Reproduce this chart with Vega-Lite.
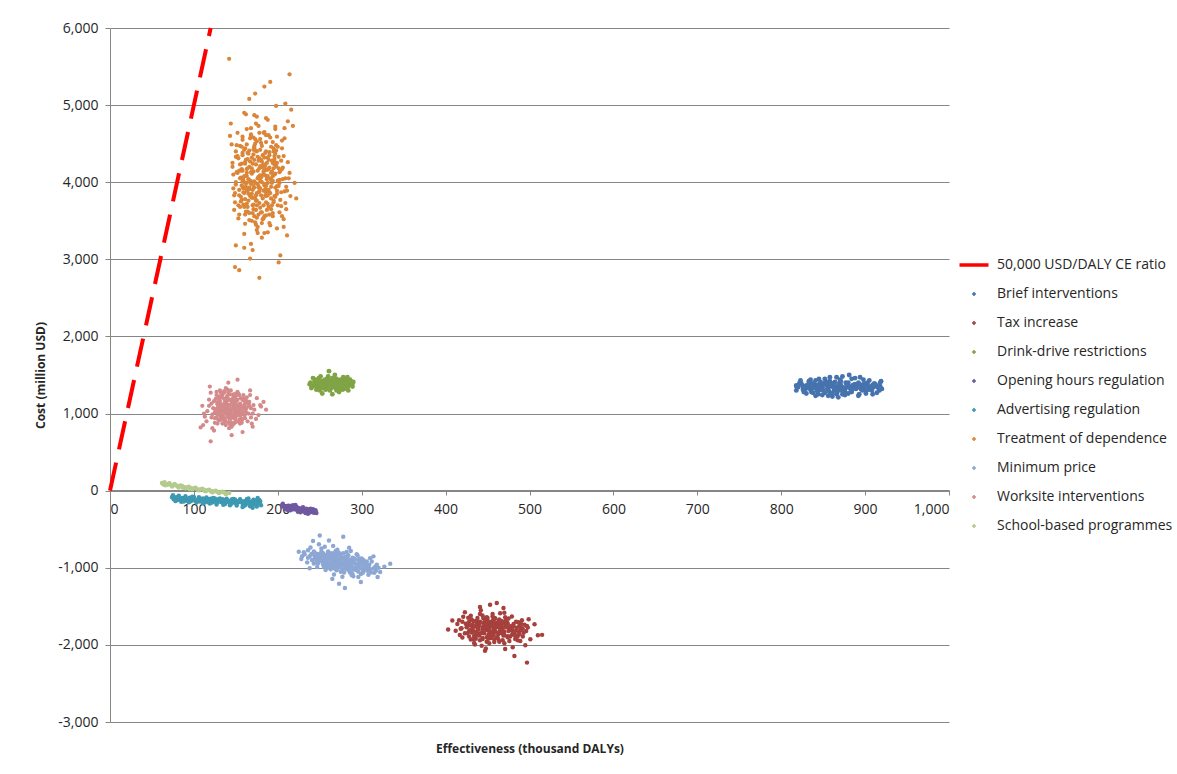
{
  "$schema": "https://vega.github.io/schema/vega-lite/v6.json",
  "width": 839,
  "height": 694,
  "autosize": "none",
  "padding": {"left": 110, "top": 28, "right": 228, "bottom": 52},
  "background": "white",
  "datasets": {
    "ceLine": [{"x": 0, "y": 0}, {"x": 120, "y": 6000}],
    "brief": [{"x":865,"y":1350},{"x":842,"y":1320},{"x":888,"y":1380},{"x":820,"y":1340},{"x":904,"y":1310},{"x":853,"y":1400},{"x":876,"y":1290},{"x":831,"y":1370},{"x":897,"y":1350},{"x":859,"y":1260},{"x":871,"y":1420},{"x":826,"y":1330},{"x":915,"y":1340},{"x":847,"y":1360},{"x":883,"y":1310},{"x":836,"y":1280},{"x":892,"y":1400},{"x":868,"y":1330},{"x":824,"y":1390},{"x":909,"y":1370},{"x":850,"y":1300},{"x":879,"y":1360},{"x":841,"y":1430},{"x":901,"y":1290},{"x":862,"y":1380},{"x":818,"y":1300},{"x":887,"y":1340},{"x":856,"y":1340},{"x":873,"y":1250},{"x":833,"y":1350},{"x":920,"y":1320},{"x":846,"y":1390},{"x":895,"y":1320},{"x":866,"y":1470},{"x":828,"y":1320},{"x":880,"y":1400},{"x":852,"y":1270},{"x":907,"y":1350},{"x":839,"y":1340},{"x":870,"y":1310},{"x":818,"y":1360},{"x":890,"y":1360},{"x":858,"y":1420},{"x":877,"y":1330},{"x":844,"y":1250},{"x":912,"y":1380},{"x":863,"y":1300},{"x":826,"y":1360},{"x":899,"y":1330},{"x":849,"y":1340},{"x":884,"y":1280},{"x":835,"y":1400},{"x":869,"y":1360},{"x":917,"y":1300},{"x":854,"y":1370},{"x":893,"y":1250},{"x":822,"y":1380},{"x":874,"y":1340},{"x":861,"y":1220},{"x":843,"y":1290},{"x":881,"y":1500},{"x":903,"y":1400},{"x":848,"y":1350},{"x":872,"y":1330},{"x":895,"y":1370},{"x":829,"y":1320},{"x":861,"y":1390},{"x":910,"y":1340},{"x":838,"y":1380},{"x":884,"y":1300},{"x":855,"y":1320},{"x":818,"y":1360},{"x":899,"y":1390},{"x":867,"y":1280},{"x":845,"y":1300},{"x":878,"y":1380},{"x":906,"y":1320},{"x":833,"y":1330},{"x":890,"y":1330},{"x":860,"y":1350},{"x":822,"y":1400},{"x":914,"y":1360},{"x":851,"y":1380},{"x":875,"y":1300},{"x":840,"y":1350},{"x":897,"y":1300},{"x":864,"y":1410},{"x":827,"y":1350},{"x":886,"y":1370},{"x":857,"y":1290},{"x":918,"y":1350},{"x":844,"y":1330},{"x":871,"y":1370},{"x":903,"y":1360},{"x":835,"y":1310},{"x":881,"y":1350},{"x":853,"y":1420},{"x":819,"y":1340},{"x":893,"y":1380},{"x":866,"y":1320},{"x":839,"y":1390},{"x":908,"y":1300},{"x":858,"y":1360},{"x":877,"y":1400},{"x":826,"y":1310},{"x":889,"y":1320},{"x":847,"y":1410},{"x":916,"y":1330},{"x":863,"y":1340},{"x":834,"y":1360},{"x":900,"y":1350},{"x":873,"y":1290},{"x":842,"y":1370},{"x":882,"y":1330},{"x":856,"y":1400},{"x":821,"y":1370},{"x":896,"y":1310},{"x":869,"y":1390},{"x":849,"y":1320},{"x":911,"y":1390},{"x":837,"y":1330},{"x":885,"y":1360},{"x":830,"y":1260},{"x":852,"y":1450},{"x":876,"y":1240},{"x":898,"y":1440},{"x":914,"y":1270},{"x":841,"y":1230},{"x":866,"y":1250},{"x":888,"y":1460},{"x":905,"y":1430},{"x":823,"y":1430},{"x":858,"y":1470},{"x":880,"y":1260},{"x":919,"y":1420},{"x":845,"y":1450},{"x":870,"y":1440},{"x":892,"y":1230},{"x":835,"y":1440},{"x":861,"y":1260},{"x":909,"y":1250},{"x":827,"y":1280},{"x":884,"y":1450},{"x":849,"y":1240},{"x":873,"y":1480},{"x":901,"y":1260},{"x":838,"y":1270},{"x":856,"y":1230},{"x":894,"y":1470},{"x":918,"y":1400},{"x":868,"y":1210},{"x":833,"y":1420}],
    "tax": [{"x":448,"y":-1726},{"x":462,"y":-1907},{"x":431,"y":-1672},{"x":475,"y":-1658},{"x":455,"y":-1842},{"x":419,"y":-1783},{"x":489,"y":-1949},{"x":441,"y":-1600},{"x":468,"y":-1772},{"x":452,"y":-1979},{"x":427,"y":-1649},{"x":497,"y":-1755},{"x":459,"y":-1655},{"x":436,"y":-1876},{"x":481,"y":-1852},{"x":446,"y":-1764},{"x":470,"y":-1584},{"x":412,"y":-1817},{"x":464,"y":-1959},{"x":450,"y":-1698},{"x":487,"y":-1707},{"x":433,"y":-1924},{"x":457,"y":-1803},{"x":474,"y":-1887},{"x":423,"y":-1576},{"x":493,"y":-1842},{"x":443,"y":-2012},{"x":466,"y":-1730},{"x":438,"y":-1728},{"x":479,"y":-1631},{"x":453,"y":-1480},{"x":417,"y":-1871},{"x":501,"y":-1928},{"x":445,"y":-1654},{"x":471,"y":-2054},{"x":429,"y":-1811},{"x":460,"y":-1716},{"x":485,"y":-1776},{"x":440,"y":-1860},{"x":456,"y":-1632},{"x":408,"y":-1684},{"x":495,"y":-2004},{"x":449,"y":-1807},{"x":467,"y":-1691},{"x":434,"y":-1975},{"x":477,"y":-1759},{"x":454,"y":-1911},{"x":424,"y":-1727},{"x":506,"y":-1732},{"x":442,"y":-1551},{"x":463,"y":-1858},{"x":437,"y":-1687},{"x":483,"y":-1924},{"x":451,"y":-1788},{"x":420,"y":-1904},{"x":491,"y":-1680},{"x":447,"y":-2075},{"x":472,"y":-1745},{"x":430,"y":-1622},{"x":458,"y":-1964},{"x":515,"y":-1870},{"x":439,"y":-1759},{"x":469,"y":-1523},{"x":426,"y":-1848},{"x":480,"y":-2032},{"x":455,"y":-1722},{"x":414,"y":-1729},{"x":498,"y":-1776},{"x":444,"y":-1923},{"x":465,"y":-1590},{"x":432,"y":-1803},{"x":486,"y":-1886},{"x":457,"y":-1673},{"x":421,"y":-1635},{"x":476,"y":-1808},{"x":448,"y":-2046},{"x":403,"y":-1800},{"x":510,"y":-1876},{"x":461,"y":-1456},{"x":435,"y":-1996},{"x":490,"y":-1730},{"x":452,"y":-1759},{"x":428,"y":-1890},{"x":473,"y":-1706},{"x":445,"y":-1834},{"x":499,"y":-1667},{"x":497,"y":-2230},{"x":416,"y":-1680},{"x":482,"y":-2143},{"x":441,"y":-1510},{"x":452,"y":-1780},{"x":465,"y":-1820},{"x":440,"y":-1740},{"x":478,"y":-1790},{"x":446,"y":-1850},{"x":459,"y":-1750},{"x":432,"y":-1790},{"x":487,"y":-1830},{"x":455,"y":-1700},{"x":469,"y":-1880},{"x":437,"y":-1710},{"x":449,"y":-1900},{"x":474,"y":-1720},{"x":461,"y":-1770},{"x":426,"y":-1760},{"x":492,"y":-1790},{"x":444,"y":-1800},{"x":470,"y":-1830},{"x":457,"y":-1860},{"x":434,"y":-1830},{"x":481,"y":-1760},{"x":450,"y":-1650},{"x":463,"y":-1690},{"x":441,"y":-1940},{"x":476,"y":-1950},{"x":453,"y":-1830},{"x":428,"y":-1700},{"x":488,"y":-1860},{"x":447,"y":-1690},{"x":466,"y":-1760},{"x":438,"y":-1780},{"x":458,"y":-1930},{"x":472,"y":-1680},{"x":444,"y":-1620},{"x":484,"y":-1810},{"x":451,"y":-1870},{"x":430,"y":-1930},{"x":468,"y":-1940},{"x":456,"y":-1600},{"x":479,"y":-1870},{"x":455,"y":-1760},{"x":468,"y":-1810},{"x":437,"y":-1730},{"x":482,"y":-1850},{"x":447,"y":-1700},{"x":461,"y":-1900},{"x":425,"y":-1770},{"x":490,"y":-1780},{"x":452,"y":-1830},{"x":473,"y":-1720},{"x":440,"y":-1880},{"x":458,"y":-1650},{"x":431,"y":-1840},{"x":477,"y":-1890},{"x":450,"y":-1740},{"x":465,"y":-1790},{"x":420,"y":-1700},{"x":496,"y":-1820},{"x":444,"y":-1770},{"x":470,"y":-1980},{"x":456,"y":-1710},{"x":435,"y":-1760},{"x":484,"y":-1700},{"x":449,"y":-1960},{"x":462,"y":-1730},{"x":428,"y":-1820},{"x":479,"y":-1800},{"x":446,"y":-1660},{"x":467,"y":-1850},{"x":439,"y":-1800},{"x":458,"y":-1790},{"x":474,"y":-1900},{"x":433,"y":-1690},{"x":488,"y":-1750},{"x":451,"y":-1920},{"x":464,"y":-1670},{"x":442,"y":-1850},{"x":476,"y":-1780},{"x":454,"y":-1740},{"x":423,"y":-1850},{"x":492,"y":-1890},{"x":448,"y":-1780},{"x":469,"y":-1710},{"x":436,"y":-1920},{"x":480,"y":-1830},{"x":457,"y":-1880},{"x":430,"y":-1750},{"x":471,"y":-1640},{"x":445,"y":-1720},{"x":486,"y":-1940},{"x":459,"y":-1820},{"x":438,"y":-1650},{"x":466,"y":-1800},{"x":452,"y":-1700},{"x":478,"y":-1760},{"x":427,"y":-1720},{"x":463,"y":-1930},{"x":443,"y":-1840},{"x":494,"y":-1740},{"x":455,"y":-1870},{"x":434,"y":-1880},{"x":472,"y":-1770},{"x":449,"y":-1640},{"x":483,"y":-1880},{"x":460,"y":-1760},{"x":441,"y":-1700},{"x":468,"y":-1720},{"x":418,"y":-1790},{"x":475,"y":-1820},{"x":453,"y":-1900},{"x":437,"y":-1830},{"x":489,"y":-1810},{"x":461,"y":-1840},{"x":446,"y":-1780},{"x":470,"y":-1870},{"x":432,"y":-1740},{"x":457,"y":-1680},{"x":481,"y":-1730},{"x":444,"y":-1910},{"x":465,"y":-1760}],
    "drink": [{"x":264,"y":1390},{"x":252,"y":1420},{"x":276,"y":1360},{"x":245,"y":1380},{"x":285,"y":1400},{"x":258,"y":1330},{"x":270,"y":1450},{"x":241,"y":1350},{"x":280,"y":1430},{"x":262,"y":1300},{"x":249,"y":1460},{"x":288,"y":1370},{"x":267,"y":1410},{"x":255,"y":1370},{"x":274,"y":1320},{"x":244,"y":1420},{"x":283,"y":1340},{"x":260,"y":1480},{"x":271,"y":1390},{"x":250,"y":1300},{"x":278,"y":1470},{"x":239,"y":1400},{"x":266,"y":1350},{"x":286,"y":1440},{"x":256,"y":1440},{"x":273,"y":1280},{"x":247,"y":1340},{"x":281,"y":1380},{"x":263,"y":1430},{"x":253,"y":1260},{"x":269,"y":1330},{"x":290,"y":1410},{"x":242,"y":1460},{"x":277,"y":1410},{"x":259,"y":1370},{"x":284,"y":1300},{"x":248,"y":1400},{"x":268,"y":1500},{"x":257,"y":1400},{"x":275,"y":1440},{"x":246,"y":1310},{"x":265,"y":1250},{"x":289,"y":1350},{"x":261,"y":1550},{"x":272,"y":1380},{"x":251,"y":1480},{"x":279,"y":1320},{"x":238,"y":1380},{"x":283,"y":1470},{"x":266,"y":1420},{"x":262,"y":1400},{"x":250,"y":1360},{"x":274,"y":1420},{"x":245,"y":1440},{"x":283,"y":1390},{"x":257,"y":1310},{"x":268,"y":1370},{"x":240,"y":1330},{"x":279,"y":1350},{"x":265,"y":1460},{"x":253,"y":1400},{"x":287,"y":1420},{"x":270,"y":1300},{"x":248,"y":1370},{"x":276,"y":1380},{"x":259,"y":1450},{"x":244,"y":1390},{"x":282,"y":1410},{"x":264,"y":1330},{"x":255,"y":1420},{"x":271,"y":1430},{"x":286,"y":1380},{"x":247,"y":1430},{"x":261,"y":1360},{"x":278,"y":1340},{"x":252,"y":1340},{"x":267,"y":1390},{"x":289,"y":1390},{"x":243,"y":1360},{"x":273,"y":1400},{"x":256,"y":1380},{"x":281,"y":1450},{"x":263,"y":1370},{"x":249,"y":1420},{"x":277,"y":1310},{"x":260,"y":1410},{"x":284,"y":1360},{"x":269,"y":1440},{"x":254,"y":1330},{"x":272,"y":1350}],
    "opening": [{"x":205,"y":-190},{"x":208,"y":-210},{"x":211,"y":-200},{"x":214,"y":-220},{"x":217,"y":-215},{"x":220,"y":-230},{"x":223,"y":-225},{"x":226,"y":-245},{"x":229,"y":-240},{"x":232,"y":-255},{"x":235,"y":-250},{"x":238,"y":-270},{"x":241,"y":-265},{"x":243,"y":-285},{"x":210,"y":-225},{"x":216,"y":-235},{"x":222,"y":-210},{"x":228,"y":-260},{"x":234,"y":-235},{"x":239,"y":-280},{"x":213,"y":-195},{"x":225,"y":-240},{"x":231,"y":-270},{"x":236,"y":-260},{"x":207,"y":-200},{"x":209,"y":-225},{"x":212,"y":-215},{"x":215,"y":-200},{"x":218,"y":-240},{"x":219,"y":-220},{"x":221,"y":-245},{"x":224,"y":-220},{"x":227,"y":-230},{"x":230,"y":-250},{"x":233,"y":-245},{"x":236,"y":-275},{"x":237,"y":-245},{"x":240,"y":-260},{"x":242,"y":-275},{"x":244,"y":-270},{"x":206,"y":-205},{"x":219,"y":-205},{"x":231,"y":-235},{"x":226,"y":-265},{"x":206,"y":-170},{"x":212,"y":-250},{"x":218,"y":-190},{"x":224,"y":-275},{"x":230,"y":-215},{"x":236,"y":-300},{"x":242,"y":-240},{"x":246,"y":-290},{"x":209,"y":-240},{"x":221,"y":-185},{"x":233,"y":-290},{"x":239,"y":-235},{"x":227,"y":-280},{"x":215,"y":-255},{"x":245,"y":-255}],
    "advert": [{"x":74,"y":-85},{"x":80,"y":-120},{"x":86,"y":-95},{"x":91,"y":-125},{"x":97,"y":-100},{"x":102,"y":-135},{"x":108,"y":-105},{"x":113,"y":-140},{"x":118,"y":-110},{"x":123,"y":-145},{"x":128,"y":-115},{"x":133,"y":-150},{"x":137,"y":-120},{"x":142,"y":-155},{"x":146,"y":-125},{"x":150,"y":-160},{"x":154,"y":-130},{"x":158,"y":-165},{"x":162,"y":-135},{"x":166,"y":-175},{"x":170,"y":-140},{"x":174,"y":-180},{"x":177,"y":-145},{"x":83,"y":-108},{"x":95,"y":-92},{"x":105,"y":-128},{"x":116,"y":-118},{"x":126,"y":-140},{"x":135,"y":-128},{"x":144,"y":-145},{"x":152,"y":-138},{"x":160,"y":-150},{"x":168,"y":-160},{"x":89,"y":-112},{"x":110,"y":-122},{"x":121,"y":-130},{"x":131,"y":-135},{"x":140,"y":-128},{"x":148,"y":-150},{"x":156,"y":-142},{"x":164,"y":-158},{"x":172,"y":-150},{"x":78,"y":-100},{"x":100,"y":-110},{"x":119,"y":-125},{"x":139,"y":-140},{"x":157,"y":-140},{"x":171,"y":-165},{"x":176,"y":-160},{"x":93,"y":-118},{"x":76,"y":-110},{"x":79,"y":-85},{"x":84,"y":-125},{"x":88,"y":-95},{"x":92,"y":-130},{"x":96,"y":-115},{"x":99,"y":-90},{"x":103,"y":-120},{"x":107,"y":-140},{"x":111,"y":-100},{"x":115,"y":-130},{"x":117,"y":-150},{"x":120,"y":-105},{"x":124,"y":-125},{"x":127,"y":-155},{"x":130,"y":-120},{"x":134,"y":-110},{"x":136,"y":-150},{"x":141,"y":-135},{"x":143,"y":-165},{"x":145,"y":-115},{"x":149,"y":-140},{"x":151,"y":-170},{"x":155,"y":-120},{"x":159,"y":-140},{"x":161,"y":-175},{"x":163,"y":-125},{"x":167,"y":-145},{"x":169,"y":-185},{"x":173,"y":-135},{"x":175,"y":-170},{"x":178,"y":-155},{"x":179,"y":-140},{"x":81,"y":-95},{"x":87,"y":-120},{"x":94,"y":-105},{"x":101,"y":-125},{"x":109,"y":-115},{"x":114,"y":-120},{"x":125,"y":-130},{"x":132,"y":-125},{"x":138,"y":-135},{"x":147,"y":-130},{"x":153,"y":-150},{"x":165,"y":-150},{"x":85,"y":-130},{"x":98,"y":-125},{"x":112,"y":-130},{"x":129,"y":-145},{"x":160,"y":-160},{"x":75,"y":-60},{"x":78,"y":-135},{"x":82,"y":-65},{"x":85,"y":-145},{"x":90,"y":-72},{"x":94,"y":-150},{"x":98,"y":-78},{"x":103,"y":-155},{"x":106,"y":-85},{"x":111,"y":-162},{"x":115,"y":-90},{"x":119,"y":-168},{"x":123,"y":-95},{"x":127,"y":-178},{"x":131,"y":-100},{"x":135,"y":-182},{"x":139,"y":-105},{"x":143,"y":-188},{"x":147,"y":-108},{"x":151,"y":-192},{"x":155,"y":-110},{"x":159,"y":-198},{"x":163,"y":-112},{"x":167,"y":-202},{"x":171,"y":-118},{"x":175,"y":-205},{"x":178,"y":-122},{"x":180,"y":-190},{"x":88,"y":-140},{"x":100,"y":-82},{"x":113,"y":-155},{"x":125,"y":-100},{"x":137,"y":-172},{"x":149,"y":-115},{"x":161,"y":-188},{"x":173,"y":-128},{"x":96,"y":-138},{"x":121,"y":-158},{"x":145,"y":-168},{"x":169,"y":-195},{"x":170,"y":-222},{"x":176,"y":-95},{"x":165,"y":-100},{"x":158,"y":-212}],
    "treatment": [{"x":152,"y":4120},{"x":171,"y":3650},{"x":198,"y":4480},{"x":163,"y":3890},{"x":185,"y":4210},{"x":207,"y":3420},{"x":144,"y":4760},{"x":176,"y":3980},{"x":190,"y":4350},{"x":159,"y":3710},{"x":213,"y":4050},{"x":168,"y":4620},{"x":181,"y":3280},{"x":201,"y":4180},{"x":149,"y":3860},{"x":174,"y":4410},{"x":194,"y":3560},{"x":162,"y":4290},{"x":210,"y":3940},{"x":186,"y":4830},{"x":157,"y":3770},{"x":179,"y":4090},{"x":205,"y":4540},{"x":170,"y":3600},{"x":146,"y":4250},{"x":188,"y":3350},{"x":197,"y":4690},{"x":165,"y":3910},{"x":183,"y":4140},{"x":215,"y":3820},{"x":155,"y":4470},{"x":173,"y":3480},{"x":192,"y":4030},{"x":160,"y":4900},{"x":204,"y":3690},{"x":178,"y":4310},{"x":150,"y":3180},{"x":187,"y":4160},{"x":199,"y":3850},{"x":167,"y":4570},{"x":220,"y":3990},{"x":175,"y":3540},{"x":158,"y":4380},{"x":195,"y":3740},{"x":182,"y":4220},{"x":209,"y":5020},{"x":164,"y":3620},{"x":147,"y":4100},{"x":189,"y":3880},{"x":172,"y":4450},{"x":203,"y":3050},{"x":161,"y":4260},{"x":184,"y":3960},{"x":218,"y":4730},{"x":154,"y":3580},{"x":177,"y":4070},{"x":196,"y":4340},{"x":169,"y":3800},{"x":143,"y":4600},{"x":191,"y":3440},{"x":206,"y":4190},{"x":166,"y":3930},{"x":180,"y":4510},{"x":153,"y":3700},{"x":200,"y":4020},{"x":175,"y":4850},{"x":211,"y":3310},{"x":158,"y":4150},{"x":186,"y":3870},{"x":171,"y":4420},{"x":148,"y":3640},{"x":193,"y":4280},{"x":163,"y":3990},{"x":208,"y":4700},{"x":182,"y":3520},{"x":156,"y":4060},{"x":197,"y":4370},{"x":174,"y":3760},{"x":216,"y":4940},{"x":168,"y":3200},{"x":151,"y":4130},{"x":189,"y":3900},{"x":179,"y":4560},{"x":202,"y":3610},{"x":161,"y":4240},{"x":185,"y":3830},{"x":145,"y":4490},{"x":199,"y":3400},{"x":172,"y":4010},{"x":212,"y":4790},{"x":164,"y":3680},{"x":188,"y":4320},{"x":177,"y":3950},{"x":157,"y":4170},{"x":205,"y":3560},{"x":183,"y":4640},{"x":170,"y":3120},{"x":194,"y":4080},{"x":150,"y":4400},{"x":222,"y":3790},{"x":166,"y":5080},{"x":181,"y":3470},{"x":196,"y":4230},{"x":159,"y":3920},{"x":175,"y":4530},{"x":209,"y":3730},{"x":187,"y":4040},{"x":162,"y":4880},{"x":201,"y":2960},{"x":173,"y":5150},{"x":154,"y":2860},{"x":191,"y":5300},{"x":178,"y":2760},{"x":214,"y":5400},{"x":167,"y":3010},{"x":184,"y":5240},{"x":149,"y":2900},{"x":198,"y":4990},{"x":142,"y":5600},{"x":160,"y":3150},{"x":168,"y":4010},{"x":183,"y":4230},{"x":159,"y":3870},{"x":192,"y":4120},{"x":175,"y":3760},{"x":201,"y":3950},{"x":164,"y":4380},{"x":187,"y":3640},{"x":172,"y":4470},{"x":196,"y":3820},{"x":156,"y":4150},{"x":180,"y":4060},{"x":170,"y":3700},{"x":189,"y":4290},{"x":161,"y":3990},{"x":198,"y":4410},{"x":177,"y":3580},{"x":166,"y":4200},{"x":185,"y":3910},{"x":153,"y":4310},{"x":194,"y":4020},{"x":173,"y":4560},{"x":182,"y":3790},{"x":160,"y":4080},{"x":205,"y":4170},{"x":169,"y":3850},{"x":188,"y":3720},{"x":176,"y":4330},{"x":158,"y":3940},{"x":199,"y":4250},{"x":171,"y":4140},{"x":184,"y":3560},{"x":163,"y":4490},{"x":193,"y":3990},{"x":178,"y":3880},{"x":155,"y":3680},{"x":190,"y":4390},{"x":167,"y":4270},{"x":203,"y":3770},{"x":181,"y":4000},{"x":162,"y":3620},{"x":186,"y":4520},{"x":174,"y":3830},{"x":197,"y":4110},{"x":150,"y":4000},{"x":179,"y":4420},{"x":165,"y":3760},{"x":191,"y":3860},{"x":157,"y":4240},{"x":207,"y":4340},{"x":172,"y":3930},{"x":184,"y":4650},{"x":169,"y":3500},{"x":195,"y":4180},{"x":176,"y":4050},{"x":160,"y":4420},{"x":188,"y":3990},{"x":166,"y":3600},{"x":200,"y":3700},{"x":180,"y":4290},{"x":154,"y":3830},{"x":192,"y":4460},{"x":174,"y":3450},{"x":185,"y":4090},{"x":163,"y":4120},{"x":196,"y":4270},{"x":170,"y":3800},{"x":183,"y":3700},{"x":158,"y":4550},{"x":202,"y":4030},{"x":177,"y":3930},{"x":168,"y":4600},{"x":189,"y":4170},{"x":175,"y":3380},{"x":161,"y":3780},{"x":194,"y":3600},{"x":179,"y":4210},{"x":171,"y":4360},{"x":186,"y":3820},{"x":165,"y":4040},{"x":176,"y":4150},{"x":163,"y":3720},{"x":191,"y":4050},{"x":150,"y":4330},{"x":208,"y":3880},{"x":171,"y":4580},{"x":184,"y":3340},{"x":158,"y":4010},{"x":197,"y":4720},{"x":166,"y":3910},{"x":181,"y":4270},{"x":153,"y":3530},{"x":202,"y":4130},{"x":173,"y":3990},{"x":189,"y":4610},{"x":161,"y":3460},{"x":178,"y":4180},{"x":195,"y":3760},{"x":147,"y":3920},{"x":186,"y":4400},{"x":169,"y":4110},{"x":212,"y":4260},{"x":156,"y":3810},{"x":183,"y":3890},{"x":174,"y":4760},{"x":199,"y":3950},{"x":164,"y":4300},{"x":190,"y":3580},{"x":152,"y":4640},{"x":179,"y":3670},{"x":205,"y":4440},{"x":168,"y":3980},{"x":187,"y":4070},{"x":160,"y":3330},{"x":194,"y":4520},{"x":175,"y":3860},{"x":146,"y":4200},{"x":182,"y":4350},{"x":210,"y":3650},{"x":167,"y":4020},{"x":192,"y":3790},{"x":157,"y":4460},{"x":185,"y":4160},{"x":172,"y":3560},{"x":200,"y":4010},{"x":163,"y":4690},{"x":178,"y":3730},{"x":196,"y":4300},{"x":154,"y":3900},{"x":188,"y":4810},{"x":170,"y":4240},{"x":204,"y":3870},{"x":159,"y":4060},{"x":181,"y":3610},{"x":193,"y":4140},{"x":165,"y":4370},{"x":176,"y":3420},{"x":214,"y":4120},{"x":149,"y":3740},{"x":186,"y":3950},{"x":173,"y":4500},{"x":198,"y":4210},{"x":162,"y":3940},{"x":180,"y":3830},{"x":191,"y":4580},{"x":155,"y":4230},{"x":207,"y":3520},{"x":168,"y":4130},{"x":184,"y":3980},{"x":177,"y":4730},{"x":201,"y":4330},{"x":160,"y":3860},{"x":189,"y":3680},{"x":172,"y":4290},{"x":150,"y":3970},{"x":195,"y":4440},{"x":166,"y":3510},{"x":183,"y":4110},{"x":209,"y":4050},{"x":158,"y":4590},{"x":175,"y":3700},{"x":192,"y":3940},{"x":164,"y":4180},{"x":187,"y":4250},{"x":170,"y":3900},{"x":152,"y":4340},{"x":197,"y":3810},{"x":179,"y":4020},{"x":161,"y":4440},{"x":203,"y":4150},{"x":174,"y":3640},{"x":185,"y":4380},{"x":167,"y":3820},{"x":199,"y":4590},{"x":156,"y":3750},{"x":181,"y":4080},{"x":190,"y":3470},{"x":163,"y":4170},{"x":178,"y":4640},{"x":211,"y":3890},{"x":171,"y":3950},{"x":194,"y":4250},{"x":148,"y":3830},{"x":186,"y":3740},{"x":169,"y":4320},{"x":200,"y":4460},{"x":159,"y":4020},{"x":183,"y":3530},{"x":175,"y":4400},{"x":193,"y":3700},{"x":165,"y":3850},{"x":188,"y":4080},{"x":154,"y":4150},{"x":180,"y":3610},{"x":206,"y":4040},{"x":172,"y":4870},{"x":161,"y":3580},{"x":197,"y":3930},{"x":177,"y":4280},{"x":168,"y":4700},{"x":190,"y":4190},{"x":157,"y":3960},{"x":184,"y":4320},{"x":173,"y":3790},{"x":202,"y":3990},{"x":163,"y":4080},{"x":186,"y":3570},{"x":151,"y":4480},{"x":179,"y":3920},{"x":195,"y":4400},{"x":170,"y":4130},{"x":208,"y":4570},{"x":160,"y":3680},{"x":182,"y":4190},{"x":176,"y":3340},{"x":199,"y":3890},{"x":166,"y":4410},{"x":188,"y":3830},{"x":155,"y":4050},{"x":174,"y":4230},{"x":192,"y":3650},{"x":164,"y":3890},{"x":181,"y":4470},{"x":204,"y":4280},{"x":171,"y":3710},{"x":186,"y":4610},{"x":158,"y":4350},{"x":177,"y":3870},{"x":196,"y":4100},{"x":169,"y":4180}],
    "minprice": [{"x":262,"y":-828},{"x":281,"y":-1013},{"x":248,"y":-823},{"x":295,"y":-838},{"x":270,"y":-1033},{"x":236,"y":-772},{"x":305,"y":-1006},{"x":258,"y":-1001},{"x":287,"y":-783},{"x":274,"y":-890},{"x":243,"y":-944},{"x":312,"y":-918},{"x":266,"y":-716},{"x":290,"y":-1109},{"x":252,"y":-750},{"x":279,"y":-949},{"x":301,"y":-1069},{"x":229,"y":-849},{"x":268,"y":-959},{"x":284,"y":-838},{"x":257,"y":-1029},{"x":318,"y":-959},{"x":273,"y":-808},{"x":246,"y":-900},{"x":293,"y":-1004},{"x":261,"y":-647},{"x":277,"y":-1115},{"x":239,"y":-737},{"x":308,"y":-1091},{"x":270,"y":-853},{"x":286,"y":-952},{"x":254,"y":-954},{"x":297,"y":-881},{"x":265,"y":-1144},{"x":282,"y":-794},{"x":232,"y":-824},{"x":315,"y":-1064},{"x":259,"y":-823},{"x":275,"y":-1052},{"x":249,"y":-695},{"x":300,"y":-937},{"x":268,"y":-809},{"x":288,"y":-1095},{"x":241,"y":-901},{"x":310,"y":-875},{"x":263,"y":-930},{"x":280,"y":-881},{"x":255,"y":-986},{"x":296,"y":-1120},{"x":271,"y":-765},{"x":225,"y":-792},{"x":322,"y":-1056},{"x":260,"y":-875},{"x":285,"y":-740},{"x":247,"y":-991},{"x":303,"y":-992},{"x":276,"y":-984},{"x":252,"y":-790},{"x":291,"y":-881},{"x":267,"y":-1087},{"x":235,"y":-930},{"x":314,"y":-852},{"x":278,"y":-597},{"x":258,"y":-921},{"x":299,"y":-1185},{"x":244,"y":-806},{"x":283,"y":-936},{"x":269,"y":-781},{"x":327,"y":-985},{"x":238,"y":-1005},{"x":306,"y":-918},{"x":264,"y":-812},{"x":289,"y":-1027},{"x":251,"y":-888},{"x":273,"y":-1208},{"x":294,"y":-826},{"x":256,"y":-728},{"x":319,"y":-1121},{"x":266,"y":-976},{"x":242,"y":-653},{"x":287,"y":-903},{"x":275,"y":-852},{"x":302,"y":-1050},{"x":261,"y":-997},{"x":334,"y":-948},{"x":228,"y":-887},{"x":280,"y":-1261},{"x":250,"y":-827},{"x":297,"y":-941},{"x":270,"y":-923},{"x":250,"y":-580},{"x":270,"y":-900},{"x":285,"y":-960},{"x":255,"y":-860},{"x":295,"y":-990},{"x":262,"y":-940},{"x":278,"y":-870},{"x":248,"y":-890},{"x":300,"y":-1010},{"x":266,"y":-850},{"x":288,"y":-900},{"x":258,"y":-920},{"x":281,"y":-1000},{"x":244,"y":-850},{"x":306,"y":-960},{"x":272,"y":-970},{"x":263,"y":-880},{"x":292,"y":-940},{"x":252,"y":-840},{"x":276,"y":-930},{"x":286,"y":-1060},{"x":240,"y":-820},{"x":298,"y":-920},{"x":268,"y":-1010},{"x":283,"y":-840},{"x":254,"y":-950},{"x":310,"y":-1020},{"x":274,"y":-820},{"x":260,"y":-980},{"x":290,"y":-1000},{"x":246,"y":-930},{"x":279,"y":-890},{"x":302,"y":-900},{"x":265,"y":-900},{"x":287,"y":-980},{"x":250,"y":-870},{"x":296,"y":-1050},{"x":271,"y":-860},{"x":257,"y":-880},{"x":316,"y":-990},{"x":277,"y":-1020},{"x":264,"y":-890},{"x":283,"y":-950},{"x":251,"y":-830},{"x":297,"y":-1000},{"x":270,"y":-940},{"x":245,"y":-880},{"x":308,"y":-990},{"x":259,"y":-910},{"x":290,"y":-930},{"x":276,"y":-860},{"x":238,"y":-850},{"x":302,"y":-1040},{"x":268,"y":-880},{"x":285,"y":-1010},{"x":255,"y":-900},{"x":280,"y":-920},{"x":298,"y":-960},{"x":231,"y":-800},{"x":272,"y":-1000},{"x":289,"y":-870},{"x":261,"y":-850},{"x":314,"y":-1010},{"x":266,"y":-930},{"x":248,"y":-940},{"x":294,"y":-970},{"x":278,"y":-810},{"x":253,"y":-870},{"x":305,"y":-930},{"x":274,"y":-960},{"x":243,"y":-790},{"x":287,"y":-940},{"x":262,"y":-980},{"x":299,"y":-1080},{"x":270,"y":-830},{"x":284,"y":-890},{"x":257,"y":-840},{"x":311,"y":-1060},{"x":267,"y":-900},{"x":291,"y":-1010},{"x":250,"y":-910},{"x":279,"y":-1060},{"x":296,"y":-900},{"x":260,"y":-790},{"x":282,"y":-970},{"x":236,"y":-870},{"x":307,"y":-1040},{"x":273,"y":-910},{"x":288,"y":-960},{"x":256,"y":-960},{"x":301,"y":-950},{"x":265,"y":-870},{"x":277,"y":-950},{"x":247,"y":-820},{"x":320,"y":-1000},{"x":269,"y":-990},{"x":286,"y":-920},{"x":254,"y":-810},{"x":293,"y":-1030},{"x":275,"y":-880},{"x":241,"y":-900},{"x":304,"y":-980},{"x":263,"y":-1020},{"x":281,"y":-860},{"x":258,"y":-880},{"x":296,"y":-980},{"x":271,"y":-940},{"x":289,"y":-1080},{"x":252,"y":-910},{"x":309,"y":-960},{"x":267,"y":-820},{"x":284,"y":-1030},{"x":246,"y":-860},{"x":300,"y":-880},{"x":276,"y":-990},{"x":260,"y":-940},{"x":292,"y":-890},{"x":272,"y":-850},{"x":317,"y":-1040},{"x":255,"y":-990},{"x":279,"y":-930}],
    "worksite": [{"x":138,"y":1040},{"x":152,"y":1180},{"x":129,"y":920},{"x":147,"y":1090},{"x":160,"y":980},{"x":134,"y":1240},{"x":143,"y":860},{"x":121,"y":1130},{"x":156,"y":1010},{"x":140,"y":1310},{"x":168,"y":950},{"x":131,"y":1070},{"x":149,"y":1200},{"x":137,"y":890},{"x":162,"y":1150},{"x":126,"y":1020},{"x":145,"y":830},{"x":153,"y":1260},{"x":133,"y":970},{"x":171,"y":1110},{"x":141,"y":1050},{"x":124,"y":780},{"x":158,"y":1190},{"x":136,"y":940},{"x":150,"y":1080},{"x":119,"y":1350},{"x":164,"y":900},{"x":143,"y":1000},{"x":130,"y":1220},{"x":155,"y":870},{"x":139,"y":1120},{"x":147,"y":990},{"x":127,"y":1280},{"x":174,"y":930},{"x":135,"y":1060},{"x":159,"y":1170},{"x":142,"y":810},{"x":116,"y":1030},{"x":151,"y":1240},{"x":132,"y":960},{"x":166,"y":1100},{"x":145,"y":720},{"x":128,"y":1140},{"x":157,"y":1010},{"x":138,"y":1330},{"x":148,"y":880},{"x":123,"y":1070},{"x":161,"y":1190},{"x":136,"y":920},{"x":153,"y":1050},{"x":141,"y":1400},{"x":111,"y":850},{"x":170,"y":1000},{"x":133,"y":1210},{"x":146,"y":960},{"x":129,"y":1120},{"x":158,"y":760},{"x":140,"y":1080},{"x":150,"y":1260},{"x":125,"y":940},{"x":163,"y":1160},{"x":137,"y":1030},{"x":144,"y":890},{"x":131,"y":1300},{"x":154,"y":980},{"x":180,"y":1090},{"x":120,"y":640},{"x":147,"y":1230},{"x":139,"y":1010},{"x":165,"y":1130},{"x":134,"y":870},{"x":152,"y":1440},{"x":127,"y":950},{"x":160,"y":1060},{"x":142,"y":1180},{"x":108,"y":820},{"x":149,"y":1040},{"x":136,"y":1270},{"x":157,"y":910},{"x":130,"y":1100},{"x":141,"y":1010},{"x":133,"y":1080},{"x":150,"y":960},{"x":145,"y":1150},{"x":128,"y":990},{"x":156,"y":1060},{"x":137,"y":920},{"x":148,"y":1210},{"x":131,"y":1130},{"x":159,"y":1000},{"x":143,"y":880},{"x":135,"y":1040},{"x":152,"y":1100},{"x":126,"y":1190},{"x":146,"y":950},{"x":139,"y":1170},{"x":161,"y":1130},{"x":130,"y":910},{"x":154,"y":1240},{"x":144,"y":1060},{"x":136,"y":1290},{"x":149,"y":1020},{"x":127,"y":1060},{"x":157,"y":930},{"x":140,"y":1120},{"x":134,"y":970},{"x":151,"y":1170},{"x":147,"y":860},{"x":132,"y":1220},{"x":162,"y":1060},{"x":138,"y":1080},{"x":145,"y":990},{"x":129,"y":1150},{"x":155,"y":1100},{"x":142,"y":940},{"x":137,"y":1000},{"x":158,"y":1180},{"x":125,"y":880},{"x":150,"y":1050},{"x":143,"y":1250},{"x":144,"y":1020},{"x":131,"y":1160},{"x":157,"y":990},{"x":139,"y":1090},{"x":150,"y":890},{"x":126,"y":1050},{"x":163,"y":1210},{"x":135,"y":950},{"x":147,"y":1130},{"x":141,"y":1270},{"x":154,"y":1040},{"x":122,"y":990},{"x":168,"y":1070},{"x":137,"y":1150},{"x":149,"y":930},{"x":132,"y":1010},{"x":159,"y":1240},{"x":143,"y":1110},{"x":128,"y":870},{"x":152,"y":1010},{"x":146,"y":1190},{"x":134,"y":1080},{"x":161,"y":940},{"x":139,"y":1210},{"x":118,"y":1100},{"x":155,"y":1130},{"x":142,"y":970},{"x":130,"y":1030},{"x":165,"y":1000},{"x":148,"y":1120},{"x":136,"y":1190},{"x":153,"y":900},{"x":124,"y":1160},{"x":144,"y":1300},{"x":158,"y":1090},{"x":133,"y":920},{"x":150,"y":1180},{"x":140,"y":960},{"x":127,"y":1240},{"x":162,"y":1020},{"x":146,"y":1060},{"x":135,"y":1120},{"x":156,"y":1200},{"x":138,"y":850},{"x":151,"y":990},{"x":129,"y":1090},{"x":166,"y":1150},{"x":143,"y":1030},{"x":154,"y":920},{"x":132,"y":1270},{"x":148,"y":1090},{"x":137,"y":1000},{"x":160,"y":1110},{"x":125,"y":1020},{"x":145,"y":1160},{"x":152,"y":1280},{"x":134,"y":1050},{"x":141,"y":890},{"x":163,"y":1080},{"x":130,"y":1190},{"x":155,"y":970},{"x":139,"y":1040},{"x":147,"y":1250},{"x":121,"y":950},{"x":158,"y":1020},{"x":136,"y":1100},{"x":150,"y":1140},{"x":144,"y":940},{"x":128,"y":1120},{"x":167,"y":1240},{"x":142,"y":1180},{"x":133,"y":1030},{"x":153,"y":1060},{"x":140,"y":1230},{"x":157,"y":880},{"x":146,"y":1000},{"x":131,"y":980},{"x":149,"y":1170},{"x":138,"y":1140},{"x":161,"y":990},{"x":112,"y":1000},{"x":118,"y":1180},{"x":115,"y":900},{"x":172,"y":1050},{"x":177,"y":980},{"x":183,"y":1150},{"x":169,"y":870},{"x":175,"y":1200},{"x":110,"y":1100},{"x":186,"y":1050},{"x":120,"y":1270},{"x":167,"y":1300},{"x":113,"y":960},{"x":179,"y":1110},{"x":122,"y":810},{"x":170,"y":830}],
    "school": [{"x":62,"y":100},{"x":66,"y":70},{"x":70,"y":90},{"x":74,"y":55},{"x":78,"y":75},{"x":82,"y":42},{"x":86,"y":62},{"x":90,"y":30},{"x":94,"y":50},{"x":98,"y":18},{"x":102,"y":38},{"x":106,"y":5},{"x":110,"y":25},{"x":114,"y":-8},{"x":118,"y":12},{"x":122,"y":-20},{"x":126,"y":-2},{"x":130,"y":-32},{"x":134,"y":-14},{"x":138,"y":-42},{"x":142,"y":-30},{"x":64,"y":80},{"x":72,"y":78},{"x":80,"y":62},{"x":88,"y":48},{"x":96,"y":34},{"x":104,"y":20},{"x":112,"y":12},{"x":120,"y":-5},{"x":128,"y":-15},{"x":136,"y":-25},{"x":63,"y":90},{"x":65,"y":110},{"x":68,"y":78},{"x":71,"y":95},{"x":75,"y":68},{"x":77,"y":88},{"x":81,"y":50},{"x":84,"y":68},{"x":87,"y":38},{"x":92,"y":45},{"x":95,"y":22},{"x":100,"y":30},{"x":105,"y":8},{"x":108,"y":18},{"x":113,"y":0},{"x":116,"y":5},{"x":121,"y":-12},{"x":124,"y":-8},{"x":131,"y":-22},{"x":140,"y":-35}]
  },
  "layer": [
    {
      "data": {"name": "ceLine"},
      "mark": {"type": "line", "strokeWidth": 4, "strokeDash": [28.7, 13.6], "strokeCap": "butt"},
      "encoding": {
        "x": {"field": "x", "type": "quantitative",
          "scale": {"domain": [0, 1000], "nice": false, "zero": false},
          "axis": {"title": "Effectiveness (thousand DALYs)", "values": [0,100,200,300,400,500,600,700,800,900,1000], "format": ",d", "grid": false, "offset": -232, "labelPadding": 7, "titleY": 258, "titleBaseline": "middle"}},
        "y": {"field": "y", "type": "quantitative",
          "scale": {"domain": [-3000, 6000], "nice": false, "zero": false},
          "axis": {"title": "Cost (million USD)", "values": [-3000,-2000,-1000,0,1000,2000,3000,4000,5000,6000], "format": ",d", "labelExpr": "replace(datum.label, '\u2212', '-')", "grid": true, "labelPadding": 7, "titleX": -70, "titleY": 347, "titleBaseline": "middle", "titleAngle": -90}},
        "color": {"datum": "50,000 USD/DALY CE ratio", "type": "nominal",
          "scale": {
            "domain": ["50,000 USD/DALY CE ratio", "Brief interventions", "Tax increase", "Drink-drive restrictions", "Opening hours regulation", "Advertising regulation", "Treatment of dependence", "Minimum price", "Worksite interventions", "School-based programmes"],
            "range": ["#FF0000", "#4673AE", "#A6403D", "#80A445", "#6F58A0", "#3C99B1", "#DB8538", "#8DA7D5", "#D48A8A", "#B3CB8C"]
          },
          "legend": {
            "orient": "none", "legendX": 857, "legendY": 230, "title": null,
            "symbolSize": 841, "symbolType": "stroke", "symbolStrokeWidth": 3.5,
            "rowPadding": 15, "labelOffset": 16, "padding": 0, "symbolOffset": 0,
            "labelFont": "Open Sans", "labelFontSize": 14, "labelColor": "#262626", "labelLimit": 400,
            "encode": {"symbols": {"update": {
              "shape": {"signal": "datum.value === '50,000 USD/DALY CE ratio' ? 'stroke' : 'cross'"},
              "size": {"signal": "datum.value === '50,000 USD/DALY CE ratio' ? 841 : 16"},
              "strokeWidth": {"signal": "datum.value === '50,000 USD/DALY CE ratio' ? 3.5 : 0"},
              "stroke": {"signal": "datum.value === '50,000 USD/DALY CE ratio' ? '#FF0000' : 'transparent'"},
              "fill": {"signal": "scale('color', datum.value)"},
              "opacity": {"value": 1}
            }}}
          }}
      }
    },
    {"data": {"name": "brief"}, "mark": {"type": "point", "filled": true, "size": 24, "opacity": 1},
      "encoding": {"x": {"field": "x", "type": "quantitative"}, "y": {"field": "y", "type": "quantitative"}, "color": {"datum": "Brief interventions", "type": "nominal"}}},
    {"data": {"name": "tax"}, "mark": {"type": "point", "filled": true, "size": 20, "opacity": 1},
      "encoding": {"x": {"field": "x", "type": "quantitative"}, "y": {"field": "y", "type": "quantitative"}, "color": {"datum": "Tax increase", "type": "nominal"}}},
    {"data": {"name": "drink"}, "mark": {"type": "point", "filled": true, "size": 24, "opacity": 1},
      "encoding": {"x": {"field": "x", "type": "quantitative"}, "y": {"field": "y", "type": "quantitative"}, "color": {"datum": "Drink-drive restrictions", "type": "nominal"}}},
    {"data": {"name": "opening"}, "mark": {"type": "point", "filled": true, "size": 20, "opacity": 1},
      "encoding": {"x": {"field": "x", "type": "quantitative"}, "y": {"field": "y", "type": "quantitative"}, "color": {"datum": "Opening hours regulation", "type": "nominal"}}},
    {"data": {"name": "advert"}, "mark": {"type": "point", "filled": true, "size": 20, "opacity": 1},
      "encoding": {"x": {"field": "x", "type": "quantitative"}, "y": {"field": "y", "type": "quantitative"}, "color": {"datum": "Advertising regulation", "type": "nominal"}}},
    {"data": {"name": "treatment"}, "mark": {"type": "point", "filled": true, "size": 18, "opacity": 1},
      "encoding": {"x": {"field": "x", "type": "quantitative"}, "y": {"field": "y", "type": "quantitative"}, "color": {"datum": "Treatment of dependence", "type": "nominal"}}},
    {"data": {"name": "minprice"}, "mark": {"type": "point", "filled": true, "size": 20, "opacity": 1},
      "encoding": {"x": {"field": "x", "type": "quantitative"}, "y": {"field": "y", "type": "quantitative"}, "color": {"datum": "Minimum price", "type": "nominal"}}},
    {"data": {"name": "worksite"}, "mark": {"type": "point", "filled": true, "size": 18, "opacity": 1},
      "encoding": {"x": {"field": "x", "type": "quantitative"}, "y": {"field": "y", "type": "quantitative"}, "color": {"datum": "Worksite interventions", "type": "nominal"}}},
    {"data": {"name": "school"}, "mark": {"type": "point", "filled": true, "size": 20, "opacity": 1},
      "encoding": {"x": {"field": "x", "type": "quantitative"}, "y": {"field": "y", "type": "quantitative"}, "color": {"datum": "School-based programmes", "type": "nominal"}}}
  ],
  "config": {
    "view": {"stroke": null},
    "font": "Open Sans",
    "axis": {
      "labelFont": "Open Sans", "labelFontSize": 14, "labelColor": "#262626",
      "titleFont": "Open Sans", "titleFontSize": 12, "titleFontWeight": "bold", "titleColor": "#262626",
      "domainColor": "#868686", "tickColor": "#868686", "gridColor": "#868686", "gridWidth": 1, "tickSize": 5
    }
  }
}
